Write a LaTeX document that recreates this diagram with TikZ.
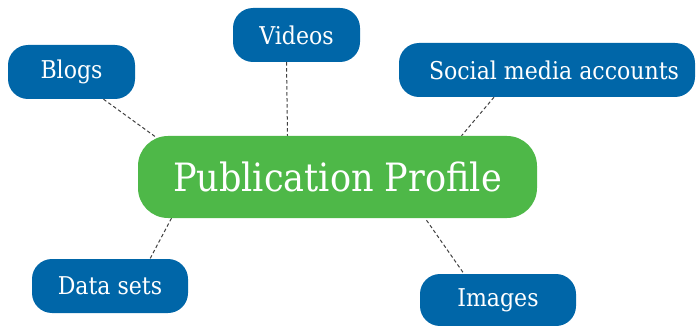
\documentclass[tikz,border=0pt]{standalone}
\usepackage{fontspec}
\setmainfont{DejaVu Serif}[FakeStretch=0.9]
\usetikzlibrary{backgrounds}
\definecolor{topicblue}{RGB}{0,102,168}
\definecolor{hubgreen}{RGB}{78,184,72}
\tikzset{
  topic/.style={fill=topicblue, text=white, rounded corners=20pt, inner sep=1pt,
    minimum height=54pt, font=\fontsize{24.5}{28}\selectfont},
  hub/.style={fill=hubgreen, text=white, rounded corners=30pt, inner sep=1pt,
    minimum width=399pt, minimum height=82pt, font=\fontsize{39}{44}\selectfont},
  link/.style={dash pattern=on 3.5pt off 2.5pt, black!75, line width=1pt}
}
\begin{document}
\begin{tikzpicture}[x=1pt,y=-1pt]
   \useasboundingbox (0,0) rectangle (696,326);
   \node[hub] (hub) at (337.5,177) {Publication Profile};
   \node[topic, minimum width=127pt] (blogs) at (71.5,72) {Blogs};
   \node[topic, minimum width=127pt] (videos) at (296.5,35) {Videos};
   \node[topic, minimum width=296pt] (social) at (547,70) {\hspace{14pt}Social media accounts};
   \node[topic, minimum width=156pt] (datasets) at (110,286) {Data sets};
   \node[topic, minimum width=156pt, minimum height=52pt] (images) at (498,300) {Images};
   \begin{scope}[on background layer]
      \draw[link] ([xshift=32pt]blogs.south) -- ([xshift=19pt,yshift=-2pt]hub.north west);
      \draw[link] ([xshift=-10pt]videos.south) -- ([xshift=-50pt]hub.north);
      \draw[link] ([xshift=-53pt]social.south) -- ([xshift=124pt]hub.north);
      \draw[link] ([xshift=-166pt]hub.south) -- ([xshift=40pt]datasets.north);
      \draw[link] ([xshift=89pt,yshift=-2pt]hub.south) -- ([xshift=-34pt]images.north);
   \end{scope}
\end{tikzpicture}
\end{document}
